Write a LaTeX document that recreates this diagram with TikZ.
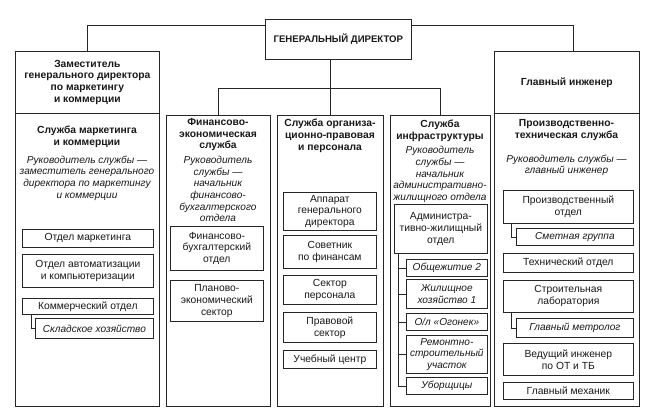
\documentclass[tikz,border=0pt]{standalone}
\usepackage{fontspec}
\setmainfont{Liberation Sans}
\begin{document}
\begin{tikzpicture}[x=1pt,y=-1pt,
  every node/.style={font=\fontsize{10.3}{11.8}\selectfont, text=black!90},
  box/.style={draw=black!85, line width=0.7pt, anchor=north west, align=center, inner sep=0pt},
  col/.style={draw=black!85, line width=0.7pt, anchor=north west, inner sep=0pt},
  txt/.style={align=center, inner sep=0pt},
  hd/.style={txt, font=\fontsize{10.3}{11.8}\selectfont\bfseries},
  it/.style={font=\fontsize{10.1}{11.6}\selectfont\itshape},
  link/.style={draw=black!85, line width=0.7pt}
]
\fill[white] (0,0) rectangle (654,418);
\useasboundingbox (0,0) rectangle (654,418);
\coordinate (topy) at (0,25);
\coordinate (bus) at (0,88);

% top level
\node[box, minimum width=146, minimum height=40, font=\fontsize{9.6}{11}\selectfont\bfseries] (gd) at (265,19) {ГЕНЕРАЛЬНЫЙ ДИРЕКТОР};
\node[box, minimum width=144, minimum height=62, font=\fontsize{10.3}{11.8}\selectfont\bfseries] (zam) at (15,51) {Заместитель\\генерального директора\\по маркетингу\\и коммерции};
\node[box, minimum width=145, minimum height=62, font=\fontsize{10.3}{11.8}\selectfont\bfseries] (gi) at (494,51) {Главный инженер};

% columns
\node[col, minimum width=144, minimum height=293] (c1) at (15,113) {};
\node[col, minimum width=104, minimum height=291] (c2) at (166,115) {};
\node[col, minimum width=106, minimum height=291] (c3) at (277,115) {};
\node[col, minimum width=100, minimum height=291] (c4) at (390,115) {};
\node[col, minimum width=145, minimum height=293] (c5) at (494,113) {};

% connectors top
\draw[link] (gd.west |- topy) -| (zam.north);
\draw[link] (gd.east |- topy) -| ([xshift=6]gi.north);
\draw[link] (gd.south -| c3.north) -- (c3.north);
\draw[link] (c2.north) -- (c2.north |- bus) -- (c4.north |- bus) -- (c4.north);

% column 1
\node[hd] (h1) at (87,136.5) {Служба маркетинга\\и коммерции};
\node[txt, it] (r1) at (87,178) {Руководитель службы —\\заместитель генерального\\директора по маркетингу\\и коммерции};
\node[box, minimum width=131, minimum height=18] (b11) at (22,229) {Отдел маркетинга};
\node[box, minimum width=131, minimum height=33] (b12) at (22,254) {Отдел автоматизации\\и компьютеризации};
\node[box, minimum width=131, minimum height=16] (b13) at (22,298) {Коммерческий отдел};
\node[box, it, minimum width=118, minimum height=20] (b14) at (35,318) {Складское хозяйство};
\draw[link] ([xshift=9]b13.south west) |- (b14.west);

% column 2
\node[hd] (h2) at (218,134.5) {Финансово-\\экономическая\\служба};
\node[txt, it] (r2) at (218,189) {Руководитель\\службы —\\начальник\\финансово-\\бухгалтерского\\отдела};
\node[box, minimum width=93, minimum height=44] (b21) at (170,226) {Финансово-\\бухгалтерский\\отдел};
\node[box, minimum width=93, minimum height=41] (b22) at (170,280) {Планово-\\экономический\\сектор};

% column 3
\node[hd] (h3) at (330,136) {Служба организа-\\ционно-правовая\\и персонала};
\node[box, minimum width=93, minimum height=38] (b31) at (283,192) {Аппарат\\генерального\\директора};
\node[box, minimum width=93, minimum height=33] (b32) at (283,235) {Советник\\по финансам};
\node[box, minimum width=93, minimum height=29] (b33) at (283,275) {Сектор\\персонала};
\node[box, minimum width=93, minimum height=30] (b34) at (283,312) {Правовой\\сектор};
\node[box, minimum width=93, minimum height=18] (b35) at (283,350) {Учебный центр};

% column 4
\node[hd] (h4) at (440,130.5) {Служба\\инфраструктуры};
\node[txt, it] (r4) at (440,174.5) {Руководитель\\службы —\\начальник\\административно-\\жилищного отдела};
\node[box, minimum width=93, minimum height=49] (b41) at (394,204) {Администра-\\тивно-жилищный\\отдел};
\node[box, it, minimum width=81, minimum height=17] (i1) at (406,259) {Общежитие 2};
\node[box, it, minimum width=81, minimum height=29] (i2) at (406,279) {Жилищное\\хозяйство 1};
\node[box, it, minimum width=81, minimum height=17] (i3) at (406,313) {О/л «Огонек»};
\node[box, it, minimum width=81, minimum height=38] (i4) at (406,335) {Ремонтно-\\строительный\\участок};
\node[box, it, minimum width=81, minimum height=17] (i5) at (406,377) {Уборщицы};
\draw[link] ([xshift=4]b41.south west) |- (i1.west);
\draw[link] ([xshift=4]b41.south west) |- (i2.west);
\draw[link] ([xshift=4]b41.south west) |- (i3.west);
\draw[link] ([xshift=4]b41.south west) |- (i4.west);
\draw[link] ([xshift=4]b41.south west) |- (i5.west);

% column 5
\node[hd] (h5) at (566.5,130) {Производственно-\\техническая служба};
\node[txt, it] (r5) at (566.5,165.5) {Руководитель службы —\\главный инженер};
\node[box, minimum width=130, minimum height=33] (p1) at (503,190) {Производственный\\отдел};
\node[box, it, minimum width=117, minimum height=17] (p2) at (516,228) {Сметная группа};
\node[box, minimum width=130, minimum height=19] (p3) at (503,253) {Технический отдел};
\node[box, minimum width=130, minimum height=32] (p4) at (503,280) {Строительная\\лаборатория};
\node[box, it, minimum width=117, minimum height=19] (p5) at (516,318) {Главный метролог};
\node[box, minimum width=130, minimum height=32] (p6) at (503,343) {Ведущий инженер\\по ОТ и ТБ};
\node[box, minimum width=130, minimum height=17] (p7) at (503,382) {Главный механик};
\draw[link] ([xshift=8]p1.south west) |- (p2.west);
\draw[link] ([xshift=8]p4.south west) |- (p5.west);
\end{tikzpicture}
\end{document}
